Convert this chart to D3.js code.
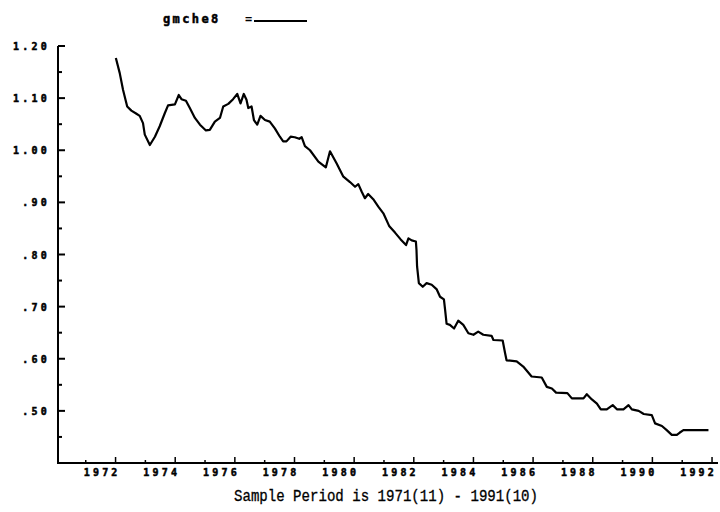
<!DOCTYPE html>
<html>
<head>
<meta charset="utf-8">
<script src="https://cdn.jsdelivr.net/npm/d3@7"></script>
<style>
  html, body { margin: 0; padding: 0; background: #fff; }
  svg { display: block; }
</style>
</head>
<body>
<svg id="chart" width="720" height="512"></svg>
<script>
// ---- data ----
const seriesName = "gmche8";
const caption = "Sample Period is 1971(11) - 1991(10)";
const years = [1973.01,1973.14,1973.25,1973.39,1973.53,1973.70,1973.81,1973.92,1973.98,1974.15,1974.32,1974.48,1974.65,1974.76,1974.99,1975.12,1975.21,1975.36,1975.49,1975.66,1975.83,1976.03,1976.16,1976.33,1976.50,1976.61,1976.78,1976.94,1977.08,1977.19,1977.30,1977.39,1977.45,1977.56,1977.64,1977.75,1977.86,1978.01,1978.17,1978.34,1978.51,1978.62,1978.73,1978.87,1979.01,1979.16,1979.24,1979.35,1979.52,1979.80,1980.05,1980.19,1980.41,1980.63,1980.86,1981.03,1981.14,1981.25,1981.36,1981.47,1981.64,1981.81,1981.98,1982.18,1982.37,1982.56,1982.74,1982.82,1982.93,1983.07,1983.09,1983.11,1983.17,1983.30,1983.43,1983.60,1983.77,1983.88,1984.01,1984.05,1984.10,1984.21,1984.35,1984.49,1984.66,1984.83,1985.00,1985.16,1985.33,1985.61,1985.67,1985.98,1986.06,1986.11,1986.45,1986.67,1986.95,1987.29,1987.46,1987.63,1987.77,1988.15,1988.30,1988.69,1988.80,1988.97,1989.14,1989.27,1989.47,1989.67,1989.81,1990.03,1990.20,1990.31,1990.54,1990.71,1990.98,1991.09,1991.32,1991.48,1991.65,1991.82,1991.91,1992.04,1992.88];
const values = [1.177,1.148,1.116,1.084,1.076,1.070,1.066,1.052,1.030,1.010,1.026,1.046,1.071,1.086,1.088,1.106,1.098,1.095,1.081,1.062,1.049,1.038,1.039,1.055,1.062,1.084,1.089,1.098,1.108,1.090,1.108,1.097,1.081,1.084,1.058,1.049,1.066,1.058,1.055,1.042,1.026,1.017,1.017,1.026,1.025,1.022,1.025,1.008,1.000,0.978,0.967,0.998,0.975,0.950,0.939,0.930,0.935,0.921,0.908,0.916,0.906,0.892,0.879,0.854,0.842,0.829,0.818,0.831,0.827,0.825,0.809,0.777,0.745,0.738,0.745,0.742,0.733,0.719,0.714,0.694,0.667,0.665,0.658,0.673,0.665,0.649,0.646,0.652,0.646,0.644,0.636,0.635,0.611,0.597,0.595,0.585,0.566,0.564,0.546,0.543,0.535,0.534,0.524,0.524,0.532,0.522,0.514,0.503,0.503,0.511,0.503,0.503,0.511,0.503,0.500,0.494,0.492,0.476,0.471,0.463,0.454,0.454,0.458,0.463,0.463];
const yTickValues = [0.50, 0.60, 0.70, 0.80, 0.90, 1.00, 1.10, 1.20];
const yTickLabels = [".50", ".60", ".70", ".80", ".90", "1.00", "1.10", "1.20"];
const yMinorTicks = [0.45, 0.55, 0.65, 0.75, 0.85, 0.95, 1.05, 1.15];
const xLabelYears = [1972, 1974, 1976, 1978, 1980, 1982, 1984, 1986, 1988, 1990, 1992];
const xTickYears = d3.range(1972, 1994);

// ---- layout ----
const svg = d3.select("#chart");
const x = d3.scaleLinear().domain([1971.07, 1993.2]).range([58, 718]);
const y = d3.scaleLinear().domain([0.40, 1.20]).range([463, 46]);

const labelFont = "'DejaVu Sans Mono', monospace";

const g = svg.append("g");
g.append("line").attr("x1", x.range()[0]).attr("x2", x.range()[0])
  .attr("y1", y(0.40)).attr("y2", y(1.20))
  .attr("stroke", "#000").attr("stroke-width", 2);
g.append("line").attr("x1", x.range()[0] - 1).attr("x2", x.range()[1])
  .attr("y1", y(0.40)).attr("y2", y(0.40))
  .attr("stroke", "#000").attr("stroke-width", 2);

g.selectAll(".ytick").data(yTickValues).join("line")
  .attr("x1", x.range()[0]).attr("x2", x.range()[0] + 7)
  .attr("y1", d => y(d)).attr("y2", d => y(d))
  .attr("stroke", "#000").attr("stroke-width", 2);
g.selectAll(".yminor").data(yMinorTicks).join("line")
  .attr("x1", x.range()[0]).attr("x2", x.range()[0] + 4)
  .attr("y1", d => y(d)).attr("y2", d => y(d))
  .attr("stroke", "#000").attr("stroke-width", 2);
g.selectAll(".ylab").data(yTickValues).join("text")
  .attr("x", 50).attr("y", d => y(d) + 4)
  .attr("text-anchor", "end")
  .attr("font-family", labelFont).attr("font-weight", "bold")
  .attr("font-size", 10).attr("letter-spacing", 3.2)
  .attr("stroke", "#000").attr("stroke-width", 0.5)
  .text((d, i) => yTickLabels[i]);

g.selectAll(".xtick").data(xTickYears).join("line")
  .attr("x1", d => x(d)).attr("x2", d => x(d))
  .attr("y1", y(0.40)).attr("y2", d => y(0.40) - (d % 2 === 1 ? 6 : 3))
  .attr("stroke", "#000").attr("stroke-width", 1.5);
g.selectAll(".xlab").data(xLabelYears).join("text")
  .attr("x", d => x(d + 0.5) + 1.5).attr("y", 476)
  .attr("text-anchor", "middle")
  .attr("font-family", labelFont).attr("font-weight", "bold")
  .attr("font-size", 10).attr("letter-spacing", 3.2)
  .attr("stroke", "#000").attr("stroke-width", 0.5)
  .text(d => String(d));

const pts = years.map((yr, i) => [yr, values[i]]);
g.append("path").datum(pts)
  .attr("fill", "none").attr("stroke", "#000").attr("stroke-width", 2.2)
  .attr("stroke-linejoin", "round")
  .attr("d", d3.line().x(d => x(d[0])).y(d => y(d[1])));

svg.append("text").attr("x", 163).attr("y", 23)
  .attr("font-family", labelFont).attr("font-weight", "bold")
  .attr("font-size", 12).attr("letter-spacing", 2.4)
  .attr("stroke", "#000").attr("stroke-width", 0.5)
  .text(seriesName);
svg.append("text").attr("x", 245).attr("y", 23)
  .attr("font-family", labelFont).attr("font-weight", "bold")
  .attr("font-size", 12)
  .text("=");
svg.append("line").attr("x1", 254).attr("x2", 307).attr("y1", 21).attr("y2", 21)
  .attr("stroke", "#000").attr("stroke-width", 2);

svg.append("text").attr("x", 234).attr("y", 501)
  .attr("font-family", "'Liberation Mono', 'DejaVu Sans Mono', monospace")
  .attr("font-size", 16)
  .attr("textLength", 304).attr("lengthAdjust", "spacingAndGlyphs")
  .attr("stroke", "#000").attr("stroke-width", 0.3)
  .text(caption);
</script>
</body>
</html>
